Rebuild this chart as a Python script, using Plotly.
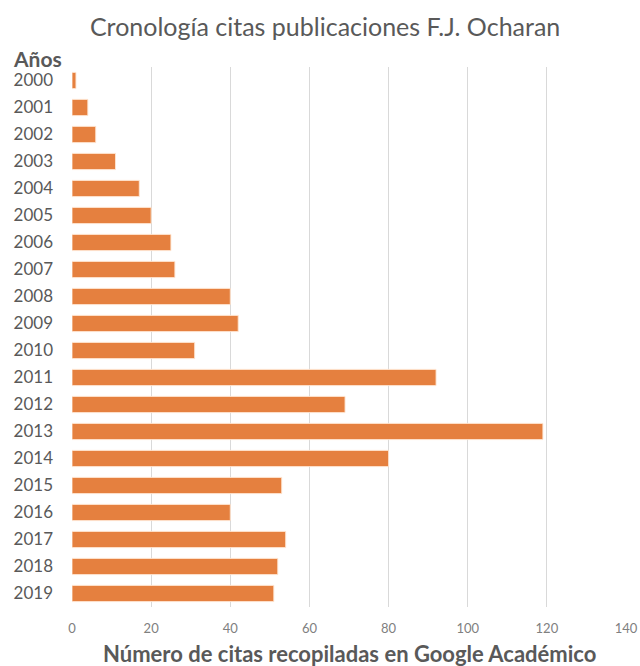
import plotly.graph_objects as go

years = ["2000", "2001", "2002", "2003", "2004", "2005", "2006", "2007", "2008", "2009",
         "2010", "2011", "2012", "2013", "2014", "2015", "2016", "2017", "2018", "2019"]
citas = [1, 4, 6, 11, 17, 20, 25, 26, 40, 42, 31, 92, 69, 119, 80, 53, 40, 54, 52, 51]
x_ticks = [0, 20, 40, 60, 80, 100, 120, 140]

W, H = 640, 666
ml, mr, mt, mb = 72, 14, 67, 59
FONT = "Lato"

fig = go.Figure(go.Bar(
    x=citas, y=years, orientation="h",
    marker=dict(color="#E5803F", line=dict(color="rgba(255,230,210,0.9)", width=1)),
))

fig.update_layout(
    width=W, height=H,
    margin=dict(l=ml, r=mr, t=mt, b=mb, autoexpand=False),
    paper_bgcolor="white", plot_bgcolor="white",
    bargap=0.4,
    showlegend=False,
    title=dict(text="Cronología citas publicaciones F.J. Ocharan",
               x=0.508, xanchor="center", y=1 - 27 / H, yanchor="middle",
               font=dict(family=FONT, size=25, color="#595959"), automargin=False),
    font=dict(family=FONT, color="#595959"),
)
fig.update_xaxes(range=[0, 140], tickvals=x_ticks, showgrid=True, gridcolor="#D9D9D9",
                 gridwidth=1, zeroline=False, showline=False, ticks="", automargin=False,
                 tickfont=dict(family=FONT, size=13, color="#808080"), ticklabelstandoff=12)
fig.update_yaxes(autorange="reversed", showgrid=False, showline=False, ticks="", automargin=False,
                 tickfont=dict(family=FONT, size=17, color="#595959"), ticklabelstandoff=18)

fig.add_annotation(text="<b>Años</b>", xref="paper", yref="paper",
                   x=-(ml - 11) / (W - ml - mr), xanchor="left",
                   y=1 + (mt - 59) / (H - mt - mb), yanchor="middle",
                   showarrow=False, font=dict(family=FONT, size=21, color="#595959"))
fig.add_annotation(text="<b>Número de citas recopiladas en Google Académico</b>",
                   xref="paper", yref="paper",
                   x=(349 - ml) / (W - ml - mr), xanchor="center",
                   y=-(653 - (H - mb)) / (H - mt - mb), yanchor="middle",
                   showarrow=False, font=dict(family=FONT, size=22, color="#595959"))

fig.write_html("out.html", config={"displayModeBar": False},
               post_script="document.body.style.margin='0';")
